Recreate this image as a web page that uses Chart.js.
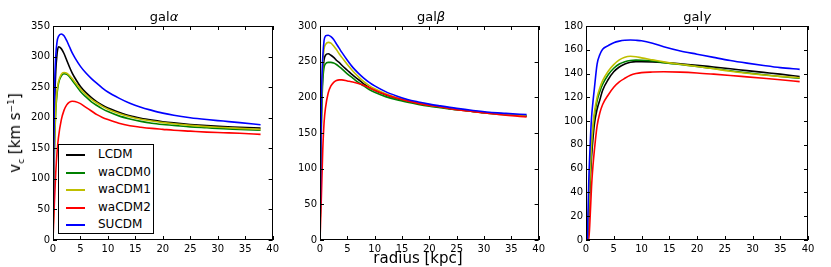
<!DOCTYPE html>
<html lang="en">
<head>
<meta charset="UTF-8">
<title>Rotation curves</title>
<script src="https://cdn.jsdelivr.net/npm/chart.js@4.4.0/dist/chart.umd.min.js"></script>
<style>
  body { margin: 0; background: #fff; font-family: "DejaVu Sans", sans-serif; }
  #wrap { position: relative; width: 831px; height: 267px; overflow: hidden; }
  #wrap canvas { position: absolute; top: 0; }
  .ttl { position: absolute; top: 9px; font-size: 13px; transform: translateX(-50%); white-space: nowrap; }
  #xlab { position: absolute; left: 418px; top: 249px; font-size: 15px; transform: translateX(-50%); white-space: nowrap; }
  #ylab { position: absolute; left: 16px; top: 133px; font-size: 15px; transform: translate(-50%, -50%) rotate(-90deg); white-space: nowrap; }
  #legend { position: absolute; left: 58px; top: 144px; width: 94px; height: 88px; border: 1px solid #000; background: #fff; font-size: 12px; }
  .row { position: absolute; left: 0; height: 17px; line-height: 17px; }
  .row span.ln { position: absolute; left: 7px; top: 8px; width: 19px; height: 2px; }
  .row span.tx { position: absolute; left: 39px; top: 0; white-space: nowrap; }
</style>
</head>
<body>
<div id="wrap">
  <canvas id="cA" width="282" height="267" style="left:0px"></canvas>
  <canvas id="cB" width="266" height="267" style="left:282px"></canvas>
  <canvas id="cG" width="283" height="267" style="left:548px"></canvas>
  <div class="ttl" style="left:164px">gal<i>α</i></div>
  <div class="ttl" style="left:431px">gal<i>β</i></div>
  <div class="ttl" style="left:697px">gal<i>γ</i></div>
  <div id="xlab">radius [kpc]</div>
  <div id="ylab">v<sub style="font-size:9px">c</sub> [km s<sup style="font-size:9px">−1</sup>]</div>
  <div id="legend"></div>
</div>

<script>
    // model names + colours (matplotlib classic k, g, y, r, b)
    const models = ['LCDM', 'waCDM0', 'waCDM1', 'waCDM2', 'SUCDM'];
    const colors = ['#000000', '#008000', '#bfbf00', '#ff0000', '#0000ff'];

    // gal alpha
    const rAlpha = [0, 0.25, 0.5, 0.75, 1, 1.5, 2, 2.5, 3, 3.5, 4, 5, 6, 7, 8, 9, 10, 12, 14, 16, 18, 20, 22, 25, 28, 31, 34, 37.8];
    const lcdmAlpha   = [0, 200, 275, 305, 316, 313, 305, 294, 283, 273, 265, 251, 241, 233, 226, 220.5, 216, 209, 203, 199, 196, 193.5, 191.5, 189, 187, 185.5, 184.5, 183];
    const wa0Alpha    = [0, 140, 210, 240, 256, 268, 272, 271, 267, 261, 255, 243, 234, 226, 220, 214.5, 210, 203, 198, 194, 191, 189, 187.5, 185, 183.5, 182, 181, 179.5];
    const wa1Alpha    = [0, 145, 215, 245, 259, 271, 274, 273, 269, 264, 258, 247, 238, 230, 224, 218.5, 214, 207, 201.5, 197.5, 194.5, 192, 190, 187.5, 185.5, 184, 182.5, 181];
    const wa2Alpha    = [0, 60, 110, 145, 168, 196, 212, 221, 225.5, 227, 226.5, 223, 217, 211, 205, 200.5, 197, 191, 187, 184.5, 182.5, 181, 179.5, 178, 176.5, 175.5, 174.5, 172.8];
    const sucdmAlpha  = [0, 230, 300, 325, 333, 337, 334, 326, 316, 306, 298, 284, 273, 264, 256, 248.5, 242, 232, 223.5, 217, 212, 207.5, 204, 200, 197, 194.5, 192, 188.5];

    // gal beta
    const rBeta = [0, 0.25, 0.5, 0.75, 1, 1.5, 2, 2.5, 3, 3.5, 4, 5, 6, 7, 8, 9, 10, 12, 14, 16, 18, 20, 22, 25, 28, 31, 34, 37.8];
    const lcdmBeta   = [0, 170, 232, 253, 259, 261, 259, 256, 252, 249, 245, 238, 231, 225, 219, 214, 210, 203.5, 198.5, 194.5, 191.5, 188.5, 186.5, 183, 180.5, 178, 176, 174];
    const wa0Beta    = [0, 160, 222, 242, 247, 249, 249, 248, 246, 243, 240, 233, 227, 221, 216, 211, 207, 201, 196.5, 193, 190, 187.5, 185.5, 182.5, 180, 177.5, 175.5, 173.5];
    const wa1Beta    = [0, 180, 245, 268, 274, 277, 276, 272, 267, 261, 256, 246, 237, 229, 222, 216.5, 212, 205, 199.5, 195.5, 192, 189, 187, 183.5, 180.5, 178, 176, 174.5];
    const wa2Beta    = [0, 60, 125, 165, 185, 206, 216, 221, 223.5, 224.5, 224.5, 223, 221.5, 219.5, 217, 213.5, 210, 204, 199, 195, 191.5, 188.5, 186.5, 182.5, 180, 177.5, 175, 172.5];
    const sucdmBeta  = [0, 190, 255, 280, 286, 287, 285, 281, 275, 269, 263, 252, 242, 234, 227, 221, 216, 208, 202, 197, 193.5, 190.5, 188, 184.5, 181.5, 179, 177.5, 175.8];

    // gal gamma
    const rGamma = [0.25, 0.5, 0.75, 1, 1.25, 1.5, 2, 2.5, 3, 4, 5, 6, 7, 8, 9, 10, 12, 14, 17, 20, 23, 26, 29, 32, 35, 38.5];
    const lcdmGamma  = [0, 18, 48, 70, 85, 97, 110, 118, 126, 135, 141.5, 145.5, 148, 149.5, 150, 150, 149.8, 149.3, 148.3, 147, 145.5, 144, 142.5, 141, 139.5, 137.5];
    const wa0Gamma   = [0, 25, 55, 78, 93, 104, 117, 125, 131, 139, 144.5, 148, 150, 151, 151.3, 151.2, 150.5, 149.2, 147.6, 146, 144.2, 142.4, 140.6, 139, 137.5, 136];
    const wa1Gamma   = [0, 27, 58, 81, 96, 107, 120, 128, 134, 142, 147.5, 151.5, 153.8, 154.5, 154.2, 153.2, 151.5, 149.8, 147.8, 146, 144, 142, 140.3, 138.8, 137.6, 136.5];
    const wa2Gamma   = [0, 0, 20, 45, 62, 75, 96, 107, 114, 122, 128.5, 133, 136, 138.5, 140, 140.8, 141.3, 141.5, 141.2, 140.5, 139.5, 138.4, 137.2, 136, 134.8, 133.2];
    const sucdmGamma = [0, 49, 80, 103, 116, 127, 148, 156, 160.5, 163.5, 166, 167.3, 168, 168.2, 168, 167.6, 165.5, 162.5, 159, 156.3, 153.6, 151, 148.8, 146.8, 145, 143.5];

    const xTicksMax = 40;

    // inward ticks on all four sides + box, matplotlib style
    const boxTicks = {
        id: 'boxTicks',
        afterDatasetsDraw(chart) {
            const {ctx, chartArea: a, scales: {x, y}} = chart;
            ctx.save();
            ctx.strokeStyle = '#000';
            ctx.lineWidth = 1;
            ctx.beginPath();
            x.ticks.forEach(t => {
                const p = Math.round(x.getPixelForValue(t.value)) + 0.5;
                ctx.moveTo(p, a.bottom); ctx.lineTo(p, a.bottom - 4);
                ctx.moveTo(p, a.top); ctx.lineTo(p, a.top + 4);
            });
            y.ticks.forEach(t => {
                const p = Math.round(y.getPixelForValue(t.value)) + 0.5;
                ctx.moveTo(a.left, p); ctx.lineTo(a.left + 4, p);
                ctx.moveTo(a.right, p); ctx.lineTo(a.right - 4, p);
            });
            ctx.stroke();
            ctx.strokeRect(Math.round(a.left) + 0.5, Math.round(a.top) + 0.5, Math.round(a.width) - 1, Math.round(a.height) - 1);
            ctx.restore();
        }
    };

    function makePanel(id, r, series, yMax, yStep, yWidth, padRight) {
        const datasets = series.map((vals, i) => ({
            label: models[i],
            data: r.map((rv, k) => ({x: rv, y: vals[k]})),
            borderColor: colors[i],
            borderWidth: 1.6,
            pointRadius: 0,
            fill: false,
            cubicInterpolationMode: 'monotone',
            order: series.length - i
        }));
        new Chart(document.getElementById(id), {
            type: 'line',
            data: {datasets: datasets},
            plugins: [boxTicks],
            options: {
                responsive: false,
                animation: false,
                devicePixelRatio: 1,
                layout: {padding: {left: 0, right: padRight, top: 26, bottom: 0}},
                plugins: {legend: {display: false}, tooltip: {enabled: false}},
                scales: {
                    x: {
                        type: 'linear', min: 0, max: xTicksMax,
                        grid: {display: false, drawTicks: false},
                        border: {display: false},
                        ticks: {stepSize: 5, color: '#000', padding: 3, maxRotation: 0,
                                font: {family: 'DejaVu Sans', size: 10}},
                        afterFit: s => { s.height = 27; }
                    },
                    y: {
                        min: 0, max: yMax,
                        grid: {display: false, drawTicks: false},
                        border: {display: false},
                        ticks: {stepSize: yStep, color: '#000', padding: 3,
                                font: {family: 'DejaVu Sans', size: 10}},
                        afterFit: s => { s.width = yWidth; }
                    }
                }
            }
        });
    }

    makePanel('cA', rAlpha, [lcdmAlpha, wa0Alpha, wa1Alpha, wa2Alpha, sucdmAlpha], 350, 50, 53, 7);
    makePanel('cB', rBeta, [lcdmBeta, wa0Beta, wa1Beta, wa2Beta, sucdmBeta], 300, 50, 38, 6);
    makePanel('cG', rGamma, [lcdmGamma, wa0Gamma, wa1Gamma, wa2Gamma, sucdmGamma], 180, 20, 38, 23);

    // legend box inside gal alpha
    const leg = document.getElementById('legend');
    models.forEach((m, i) => {
        const row = document.createElement('div');
        row.className = 'row';
        row.style.top = (1 + i * 17.5) + 'px';
        row.innerHTML = '<span class="ln" style="background:' + colors[i] + '"></span><span class="tx">' + m + '</span>';
        leg.appendChild(row);
    });
</script>
</body>
</html>
